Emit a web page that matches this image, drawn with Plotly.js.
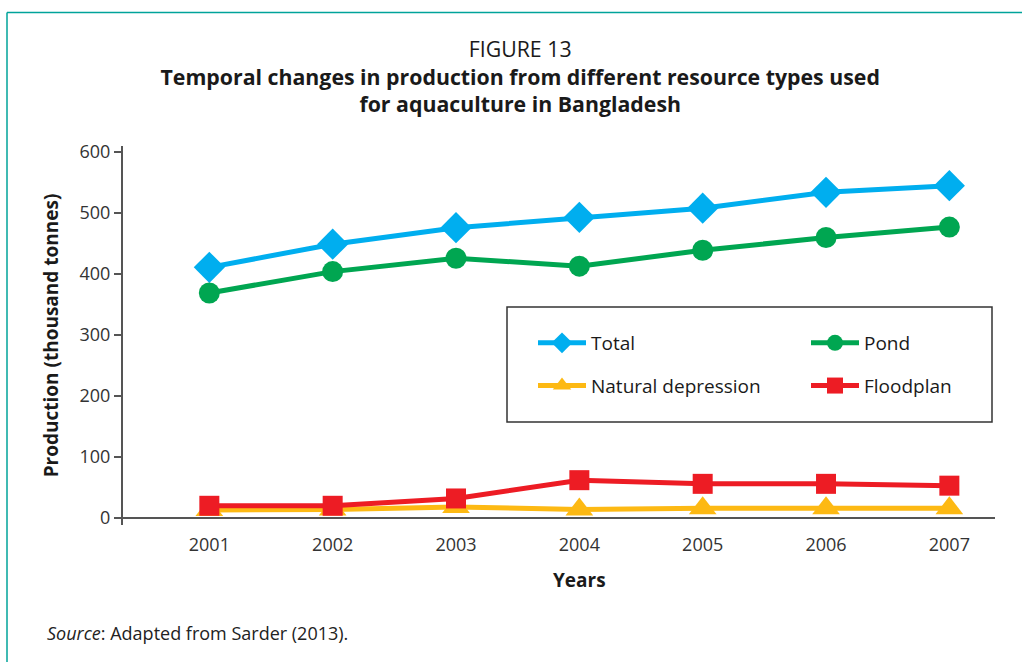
<!DOCTYPE html>
<html>
<head>
<meta charset="utf-8">
<script src="https://cdn.plot.ly/plotly-3.0.1.min.js"></script>
<style>html,body{margin:0;padding:0;background:#fff;}#chart{width:1022px;height:662px;}</style>
</head>
<body>
<div id="chart"></div>
<script>
var years = [2001, 2002, 2003, 2004, 2005, 2006, 2007];
var total = [411, 449, 476, 493, 508, 534, 545];
var pond = [369, 404, 426, 413, 439, 460, 477];
var naturalDepression = [13, 14, 18, 14, 16, 16, 16];
var floodplan = [20, 20, 32, 62, 56, 56, 53];
var yTicks = [0, 100, 200, 300, 400, 500, 600];

var FONT = '"Open Sans", "Noto Sans", sans-serif';

function series(name, y, color, symbol, size, legendId) {
  return {
    x: years, y: y, name: name, type: 'scatter', mode: 'lines+markers',
    line: {color: color, width: 5},
    marker: {color: color, symbol: symbol, size: size},
    legend: legendId, legendgroup: name,
    cliponaxis: false
  };
}

var data = [
  series('Total', total, '#00AEEF', 'diamond', 24, 'legend'),
  series('Pond', pond, '#00A651', 'circle', 21, 'legend2'),
  series('Natural depression', naturalDepression, '#FDB913', 'triangle-up', 24, 'legend'),
  series('Floodplan', floodplan, '#ED1C24', 'square', 20, 'legend2')
];

function px2x(px) { return (px - 123) / 872; }
function px2y(py) { return (525 - py) / 379; }

var legendBase = {
  orientation: 'v', xanchor: 'left', yanchor: 'top',
  xref: 'paper', yref: 'paper',
  bgcolor: 'rgba(0,0,0,0)', borderwidth: 0,
  font: {family: FONT, size: 19, color: '#1a1a1a'},
  itemsizing: 'trace', itemwidth: 48, tracegroupgap: 15
};

var layout = {
  width: 1022, height: 662,
  paper_bgcolor: '#fff', plot_bgcolor: '#fff',
  margin: {l: 123, r: 27, t: 146, b: 137},
  font: {family: FONT, color: '#222'},
  showlegend: true,
  title: {
    text: 'FIGURE 13<br><b>Temporal changes in production from different resource types used</b><br><b>for aquaculture in Bangladesh</b>',
    font: {family: FONT, size: 21.3, color: '#1a1a1a'},
    xref: 'container', x: 0.509, xanchor: 'center',
    yref: 'container', y: 1 - 57/662, yanchor: 'top'
  },
  xaxis: {
    range: [2000.3, 2007.37],
    tickvals: years, ticktext: years.map(String),
    showgrid: false, zeroline: false, showline: false, ticks: '',
    ticklabelstandoff: 7,
    tickfont: {family: FONT, size: 18, color: '#333'},
    fixedrange: true
  },
  yaxis: {
    range: [-11.5, 610],
    tickvals: yTicks,
    showgrid: false, zeroline: true, zerolinecolor: '#555', zerolinewidth: 2,
    showline: true, linecolor: '#555', linewidth: 2,
    ticks: 'outside', ticklen: 7, tickwidth: 1.5, tickcolor: '#555',
    tickfont: {family: FONT, size: 18, color: '#333'},
    title: {text: '<b>Production (thousand tonnes)</b>', font: {family: FONT, size: 19, color: '#1a1a1a'}, standoff: 16},
    fixedrange: true
  },
  legend: Object.assign({}, legendBase, {x: px2x(533), y: px2y(324)}),
  legend2: Object.assign({}, legendBase, {x: px2x(806), y: px2y(324)}),
  annotations: [
    {text: '<b>Years</b>', xref: 'x', x: 2004, yref: 'paper', y: px2y(580),
     yanchor: 'middle', xanchor: 'center', showarrow: false,
     font: {family: FONT, size: 19, color: '#1a1a1a'}},
    {text: '<i>Source</i>: Adapted from Sarder (2013).', xref: 'paper', x: px2x(45),
     yref: 'paper', y: px2y(633), xanchor: 'left', yanchor: 'middle', showarrow: false,
     font: {family: FONT, size: 18, color: '#222'}}
  ],
  shapes: [
    {type: 'rect', xref: 'paper', yref: 'paper', layer: 'below',
     x0: px2x(507), x1: px2x(992), y0: px2y(422), y1: px2y(307),
     fillcolor: '#fff', line: {color: '#333', width: 1.5}},
    {type: 'line', xref: 'paper', yref: 'paper', x0: px2x(7), x1: px2x(1030),
     y0: px2y(12.5), y1: px2y(12.5), line: {color: '#00A39A', width: 1.5}},
    {type: 'line', xref: 'paper', yref: 'paper', x0: px2x(7), x1: px2x(7),
     y0: px2y(12.5), y1: px2y(680), line: {color: '#00A39A', width: 1.5}}
  ]
};

Plotly.newPlot('chart', data, layout, {displayModeBar: false, staticPlot: true});
</script>
</body>
</html>
